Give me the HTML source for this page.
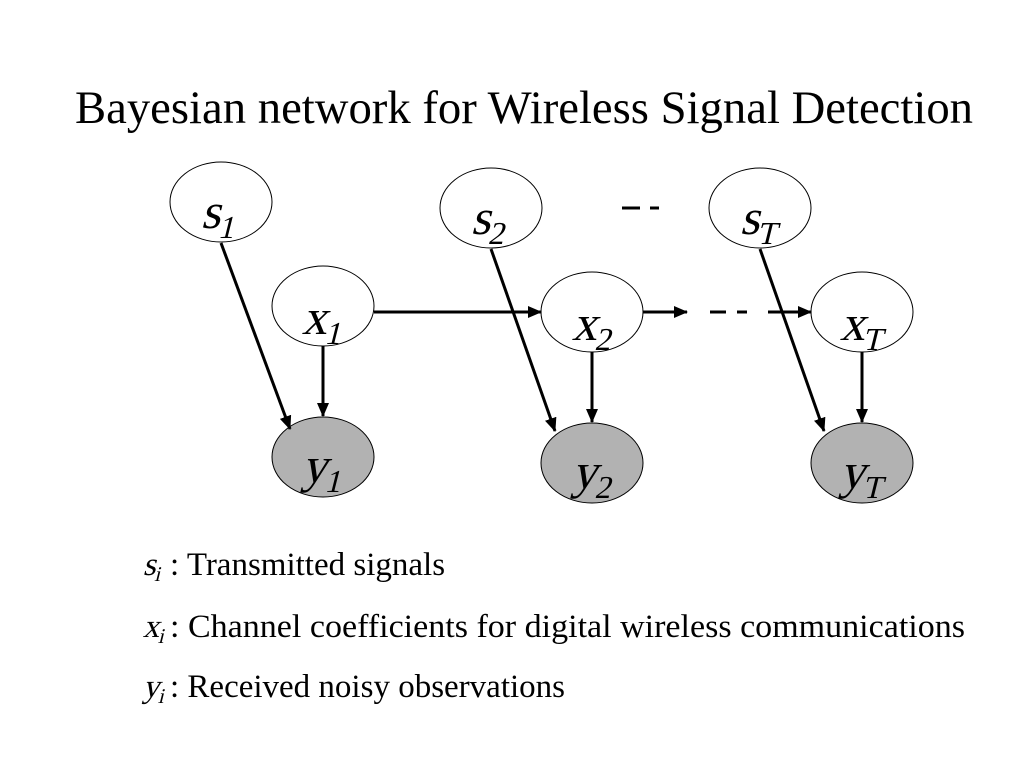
<!DOCTYPE html>
<html><head><meta charset="utf-8"><style>
body{margin:0;width:1024px;height:768px;background:#fff;overflow:hidden}
svg{position:absolute;left:0;top:0}
text{font-family:"Liberation Serif","DejaVu Serif",serif}
.it{transform-box:fill-box;transform-origin:center;transform:skewX(-14deg)}
</style></head><body>
<svg width="1024" height="768" viewBox="0 0 1024 768">
<defs>
<marker id="b" markerWidth="14" markerHeight="12" refX="13" refY="6" orient="auto" markerUnits="userSpaceOnUse"><path d="M0,0L14,6L0,12z" fill="#000"/></marker></defs>
<text x="75" y="123" font-size="47" textLength="898" lengthAdjust="spacingAndGlyphs">Bayesian network for Wireless Signal Detection</text>
<g fill="#fff" stroke="#000" stroke-width="1">
<ellipse cx="221" cy="202" rx="51" ry="40"/>
<ellipse cx="491" cy="208" rx="51" ry="40"/>
<ellipse cx="760" cy="208" rx="51" ry="40"/>
<ellipse cx="323" cy="306" rx="51" ry="40"/>
<ellipse cx="592" cy="312" rx="51" ry="40"/>
<ellipse cx="862" cy="312" rx="51" ry="40"/>
<ellipse cx="323" cy="457" rx="51" ry="40" fill="#b2b2b2"/>
<ellipse cx="592" cy="463" rx="51" ry="40" fill="#b2b2b2"/>
<ellipse cx="862" cy="463" rx="51" ry="40" fill="#b2b2b2"/>
</g>
<g stroke="#000" stroke-width="3" fill="none" marker-end="url(#b)">
<line x1="221" y1="243" x2="290" y2="429"/>
<line x1="323" y1="346" x2="323" y2="416"/>
<line x1="374" y1="312" x2="541" y2="312"/>
<line x1="491" y1="249" x2="555" y2="431"/>
<line x1="592" y1="352" x2="592" y2="422"/>
<line x1="643" y1="312" x2="687" y2="312"/>
<line x1="768" y1="312" x2="811" y2="312"/>
<line x1="760" y1="249" x2="824" y2="431"/>
<line x1="862" y1="352" x2="862" y2="422"/>
</g>
<g stroke="#000" stroke-width="3">
<line x1="710" y1="312" x2="726" y2="312"/><line x1="737" y1="312" x2="747" y2="312"/>
<line x1="622" y1="208" x2="640" y2="208"/><line x1="650" y1="208" x2="659" y2="208"/>
</g>
<g>
<text class="it" x="204" y="228" font-size="50">s<tspan font-size="32" dy="10">1</tspan></text>
<text class="it" x="474" y="234" font-size="50">s<tspan font-size="32" dy="10">2</tspan></text>
<text class="it" x="743" y="234" font-size="50">s<tspan font-size="32" dy="10">T</tspan></text>
<text class="it" x="305" y="334" font-size="50">x<tspan font-size="32" dy="10">1</tspan></text>
<text class="it" x="575" y="340" font-size="50">x<tspan font-size="32" dy="10">2</tspan></text>
<text class="it" x="843" y="340" font-size="50">x<tspan font-size="32" dy="10">T</tspan></text>
<text class="it" x="305" y="482" font-size="50">y<tspan font-size="32" dy="10">1</tspan></text>
<text class="it" x="575" y="488" font-size="50">y<tspan font-size="32" dy="10">2</tspan></text>
<text class="it" x="843" y="488" font-size="50">y<tspan font-size="32" dy="10">T</tspan></text>
</g>
<g font-size="33">
<text class="it" x="145" y="575" font-size="33">s<tspan font-size="21" dy="6">i</tspan></text>
<text x="170" y="575">: Transmitted signals</text>
<text class="it" x="145" y="637" font-size="33">x<tspan font-size="21" dy="6">i</tspan></text>
<text x="170" y="637" textLength="795" lengthAdjust="spacingAndGlyphs">: Channel coefficients for digital wireless communications</text>
<text class="it" x="145" y="697" font-size="33">y<tspan font-size="21" dy="6">i</tspan></text>
<text x="170" y="697">: Received noisy observations</text>
</g>
</svg>
</body></html>
